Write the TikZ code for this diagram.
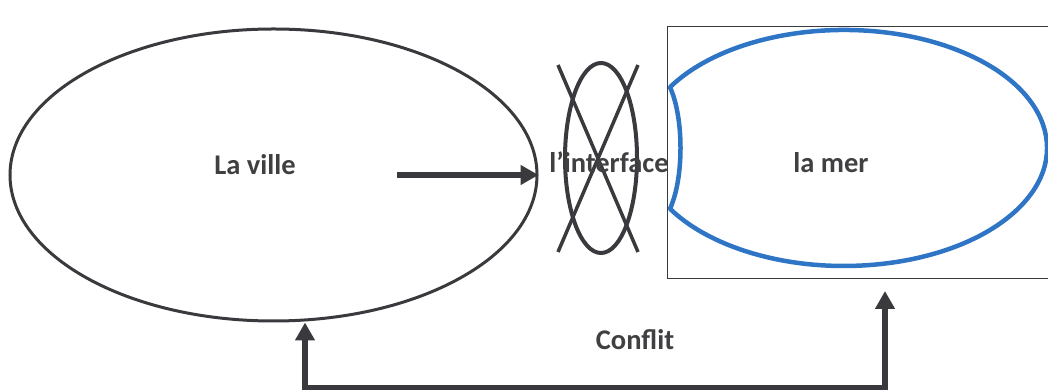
\documentclass[tikz,border=0pt]{standalone}
\usepackage{fontspec}
\setmainfont{Carlito}
\usetikzlibrary{arrows.meta,shapes.geometric,calc}
\definecolor{ink}{RGB}{58,58,62}
\definecolor{txt}{RGB}{64,64,66}
\definecolor{sea}{RGB}{46,117,198}
\begin{document}
\begin{tikzpicture}[x=1pt,y=1pt,
  lbl/.style={font=\fontsize{28.5}{32}\selectfont\bfseries, text=txt, inner sep=0pt, anchor=base},
  blob/.style={draw=ink, ellipse, inner sep=0pt},
  fatarrow/.style={draw=ink, line width=6pt,
    -{Triangle[length=18pt,width=19pt]}},
  link/.style={draw=ink, line width=5.5pt, line join=miter,
    -{Triangle[length=18pt,width=19pt]}}]
\useasboundingbox (0,0) rectangle (1048,390);

% the town
\node[blob, line width=3pt, minimum width=527pt, minimum height=292pt] (ville) at (273.5,215) {};
\node[lbl] (villetxt) at (255,215) {La ville};

% the crossed-out interface
\node[blob, line width=4pt, minimum width=72pt, minimum height=190pt] (iface) at (601,232) {};
\coordinate (xa) at (558,325);
\coordinate (xb) at (638,138);
\coordinate (xc) at (638,325);
\coordinate (xd) at (558,138);
\draw[ink, line width=3.5pt] (xa) -- (xb);
\draw[ink, line width=3.5pt] (xc) -- (xd);

% the sea: frame and blue outline with a hollowed left side
\node[draw=ink, line width=1.2pt, minimum width=385pt, minimum height=252pt,
      inner sep=0pt, anchor=south west] (frame) at (667,111) {};
\coordinate (seatop) at (670,302.8);
\coordinate (seabot) at (670,181.2);
\draw[sea, line width=4.5pt, line join=round]
  (seatop) arc[start angle=149, end angle=-149, x radius=203, y radius=118]
  .. controls (684,212) and (684,272) .. (seatop) -- cycle;
\node[lbl] (mertxt) at (831,217) {la mer};

\node[lbl] (ifacetxt) at (609,217) {l'interface};

% town pushes towards the interface
\coordinate (push) at (397,215);
\draw[fatarrow] (push) -- (ville.east);

% conflict between town and sea
\coordinate (cl) at (305,2);
\coordinate (cr) at (885,2);
\draw[link] (cr) -- (cl) -- (cl |- ville.south);
\draw[link, shorten >=12pt] (cl) -- (cr) -- (cr |- frame.south);
\node[lbl] (conflit) at (635,40) {Conflit};
\end{tikzpicture}
\end{document}
